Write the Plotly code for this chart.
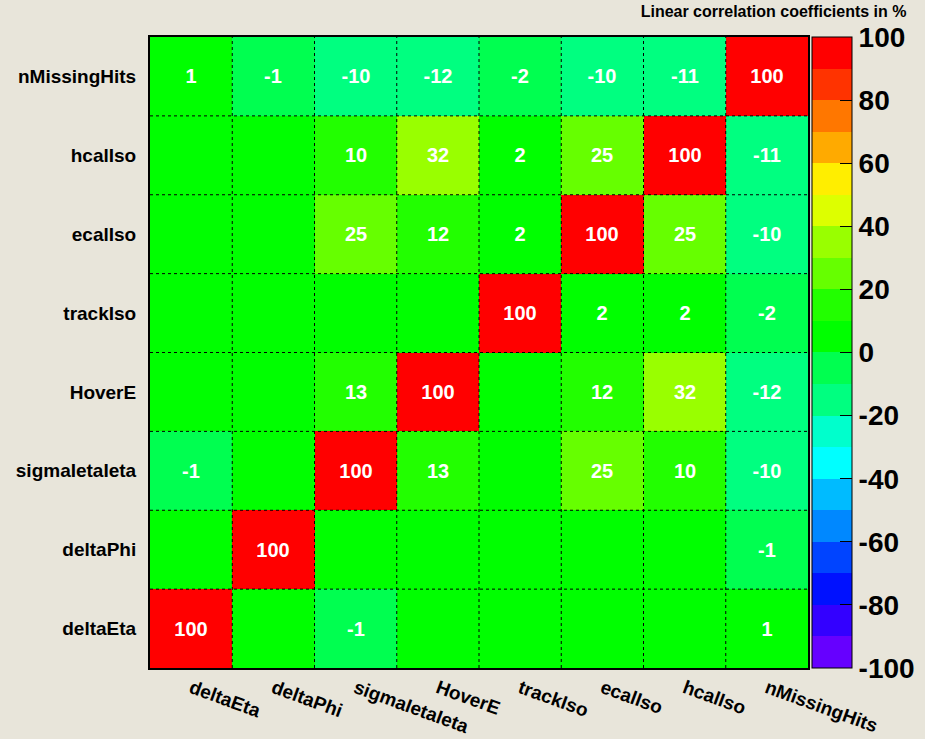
import numpy as np
import plotly.graph_objects as go

variables = ["deltaEta", "deltaPhi", "sigmaIetaIeta", "HoverE",
             "trackIso", "ecalIso", "hcalIso", "nMissingHits"]

# rows listed bottom (deltaEta) to top (nMissingHits), values in %
corr = [
    [100, 0, -1, 0, 0, 0, 0, 1],
    [0, 100, 0, 0, 0, 0, 0, -1],
    [-1, 0, 100, 13, 0, 25, 10, -10],
    [0, 0, 13, 100, 0, 12, 32, -12],
    [0, 0, 0, 0, 100, 2, 2, -2],
    [0, 0, 25, 12, 2, 100, 25, -10],
    [0, 0, 10, 32, 2, 25, 100, -11],
    [1, -1, -10, -12, -2, -10, -11, 100],
]

palette = ["#6600ff", "#3300ff", "#0011ff", "#0044ff", "#0088ff",
           "#00bbff", "#00ffff", "#00ffcc", "#00ff80", "#00ff50",
           "#00ff00", "#22ff00", "#66ff00", "#99ff00", "#ddff00",
           "#ffee00", "#ffaa00", "#ff7700", "#ff3300", "#ff0000"]

colorscale = []
n = len(palette)
for i, c in enumerate(palette):
    colorscale.append([i / n, c])
    colorscale.append([(i + 1) / n, c])

z = np.array(corr, dtype=float)
# nudge boundary values away from zero so they land in the same bin as in ROOT
zc = np.clip(z + 0.5 * np.sign(z), -99.9, 99.9)
text = [[f"<b>{v}</b>" if v != 0 else "" for v in row] for row in corr]

fig = go.Figure(go.Heatmap(
    z=zc,
    x=variables,
    y=variables,
    text=text,
    texttemplate="%{text}",
    textfont=dict(color="white", size=20, family="Liberation Sans"),
    colorscale=colorscale,
    zmin=-100,
    zmax=100,
    colorbar=dict(
        x=1.006, xanchor="left", xref="paper",
        y=0.5, yanchor="middle", len=1, lenmode="fraction",
        xpad=0, ypad=0,
        thickness=40, thicknessmode="pixels",
        outlinewidth=1, outlinecolor="black",
        tickvals=list(range(-100, 101, 20)),
        ticktext=[f"<b>{t}</b>" for t in range(-100, 101, 20)],
        ticks="inside", ticklen=12, tickcolor="black",
        tickfont=dict(size=28, color="black", family="Liberation Sans"),
    ),
))

# dotted cell borders drawn on top of the heatmap
for k in range(1, len(variables)):
    b = k - 0.5
    fig.add_shape(type="line", x0=b, x1=b, y0=0, y1=1, xref="x", yref="paper",
                  line=dict(color="black", width=1, dash="dot"), layer="above")
    fig.add_shape(type="line", y0=b, y1=b, x0=0, x1=1, yref="y", xref="paper",
                  line=dict(color="black", width=1, dash="dot"), layer="above")

axis_style = dict(
    tickvals=variables,
    ticktext=[f"<b>{v}</b>" for v in variables],
    tickfont=dict(size=19, color="black", family="Liberation Sans"),
    ticks="", showgrid=False,
    showline=True, linecolor="black", linewidth=2, mirror=True,
    automargin=False,
)
fig.update_xaxes(tickangle=20, **axis_style)
fig.update_yaxes(ticklabelstandoff=8, **axis_style)

fig.update_layout(
    width=925,
    height=739,
    margin=dict(l=150, r=117, t=37, b=71, autoexpand=False),
    paper_bgcolor="#e8e5da",
    plot_bgcolor="#e8e5da",
    title=dict(
        text="<b>Linear correlation coefficients in %</b>",
        x=0.98, xanchor="right", y=0.985, yanchor="middle",
        font=dict(size=16, color="black", family="Liberation Sans"),
    ),
)

fig.write_html("out.html", config={"displayModeBar": False},
               post_script="document.body.style.margin='0';")
